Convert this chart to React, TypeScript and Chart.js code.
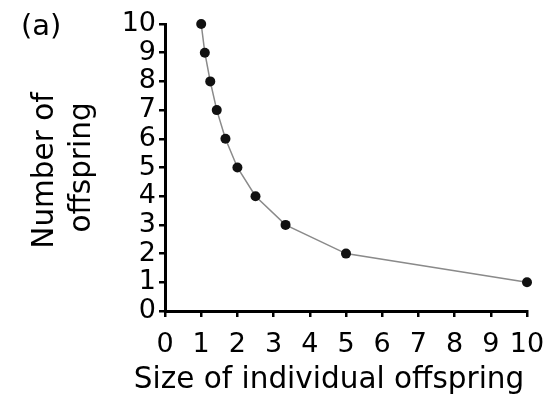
import React, { useEffect, useRef } from "react";
import { Chart, registerables } from "chart.js";

Chart.register(...registerables);

const sizes = [1, 1.1, 1.25, 1.43, 1.67, 2, 2.5, 3.33, 5, 10];
const counts = [10, 9, 8, 7, 6, 5, 4, 3, 2, 1];
const xTitle = "Size of individual offspring";
const yTitleLines = ["Number of", "offspring"];
const panelLabel = "(a)";

const FONT = "'DejaVu Sans', sans-serif";

const textPlugin = {
  id: "texts",
  afterDraw(chart: any) {
    const ctx = chart.ctx as CanvasRenderingContext2D;
    const area = chart.chartArea;
    ctx.save();
    ctx.fillStyle = "#000";
    ctx.textBaseline = "alphabetic";
    // panel label
    ctx.font = `29px ${FONT}`;
    ctx.textAlign = "left";
    ctx.fillText(panelLabel, 21, 35);
    // x title
    ctx.font = `29.5px ${FONT}`;
    ctx.textAlign = "center";
    ctx.fillText(xTitle, (area.left + area.right) / 2 - 17, 388);
    // y title
    const cy = (area.top + area.bottom) / 2;
    const xs = [53, 90];
    const dy = [3, 0];
    yTitleLines.forEach((line, i) => {
      ctx.save();
      ctx.translate(xs[i], cy + dy[i]);
      ctx.rotate(-Math.PI / 2);
      ctx.textAlign = "center";
      ctx.fillText(line, 0, 0);
      ctx.restore();
    });
    ctx.restore();
  },
};

export default function App() {
  const ref = useRef<HTMLCanvasElement | null>(null);
  useEffect(() => {
    if (!ref.current) return;
    const chart = new Chart(ref.current, {
      type: "scatter",
      data: {
        datasets: [
          {
            data: sizes.map((s, i) => ({ x: s, y: counts[i] })),
            showLine: true,
            borderColor: "#8a8a8a",
            borderWidth: 1.5,
            backgroundColor: "#111",
            pointBackgroundColor: "#111",
            pointBorderColor: "#111",
            pointBorderWidth: 0,
            pointRadius: 5,
            clip: false,
          } as any,
        ],
      },
      options: {
        animation: false,
        responsive: false,
        layout: { padding: { left: 0, right: 19, top: 24, bottom: 0 } },
        plugins: { legend: { display: false }, tooltip: { enabled: false } },
        scales: {
          x: {
            type: "linear",
            min: 0,
            max: 10,
            ticks: {
              stepSize: 1,
              autoSkip: false,
              maxRotation: 0,
              minRotation: 0,
              color: "#000",
              padding: 12,
              font: { family: FONT, size: 27 },
            },
            grid: { drawOnChartArea: false, drawTicks: true, tickLength: 6, lineWidth: 2.5, color: "#000" },
            border: { display: true, color: "#000", width: 3 },
            afterFit(scale: any) {
              scale.height = 87;
              scale.paddingLeft = 0;
              scale.paddingRight = 0;
            },
          },
          y: {
            type: "linear",
            min: 0,
            max: 10,
            ticks: {
              stepSize: 1,
              autoSkip: false,
              color: "#000",
              padding: 3,
              font: { family: FONT, size: 27 },
            },
            grid: { drawOnChartArea: false, drawTicks: true, tickLength: 6, lineWidth: 2.5, color: "#000" },
            border: { display: true, color: "#000", width: 3 },
            afterFit(scale: any) {
              scale.width = 165;
              scale.paddingTop = 0;
              scale.paddingBottom = 0;
            },
          },
        },
      },
      plugins: [textPlugin],
    });
    return () => chart.destroy();
  }, []);
  return (
    <div style={{ position: "fixed", left: 0, top: 0, width: 546, height: 398, background: "#fff" }}>
      <canvas ref={ref} width={546} height={398} style={{ width: 546, height: 398 }} />
    </div>
  );
}
